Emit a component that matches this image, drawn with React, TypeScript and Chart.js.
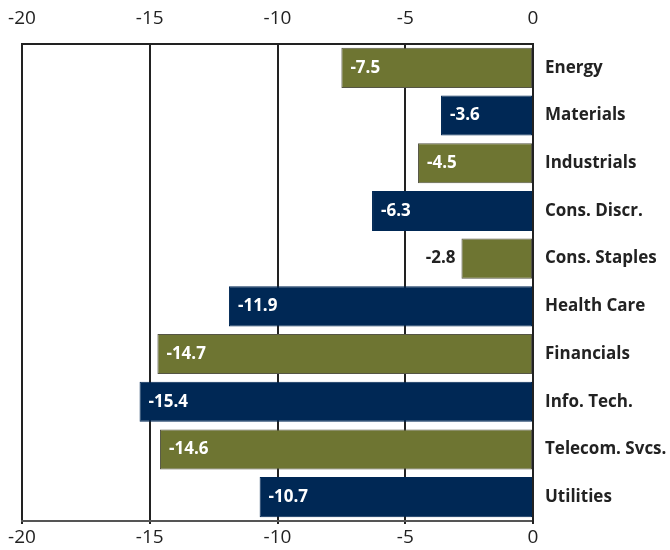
import React, { useEffect, useRef } from "react";
import { Chart, registerables } from "chart.js";

Chart.register(...registerables);

const categories = [
  "Energy",
  "Materials",
  "Industrials",
  "Cons. Discr.",
  "Cons. Staples",
  "Health Care",
  "Financials",
  "Info. Tech.",
  "Telecom. Svcs.",
  "Utilities",
];
const values = [-7.5, -3.6, -4.5, -6.3, -2.8, -11.9, -14.7, -15.4, -14.6, -10.7];
const outsideLabels = ["Cons. Staples"];
const GREEN = "#6e7532";
const NAVY = "#002855";
const barColors = categories.map((_, i) => (i % 2 === 0 ? GREEN : NAVY));
const borderColors = categories.map((_, i) => (i % 2 === 0 ? "#555544" : NAVY));

const valueLabelPlugin = {
  id: "valueLabels",
  afterDatasetsDraw(chart: any) {
    const ctx = chart.ctx;
    const meta = chart.getDatasetMeta(0);
    ctx.save();
    ctx.font = "bold 17px 'Open Sans'";
    ctx.textBaseline = "middle";
    meta.data.forEach((bar: any, i: number) => {
      const v = values[i];
      const text = v.toFixed(1);
      const left = Math.min(bar.x, bar.base);
      if (outsideLabels.includes(categories[i])) {
        ctx.fillStyle = "#222222";
        ctx.textAlign = "right";
        ctx.fillText(text, left - 6, bar.y);
      } else {
        ctx.fillStyle = "#ffffff";
        ctx.textAlign = "left";
        ctx.fillText(text, left + 9, bar.y);
      }
    });
    ctx.restore();
  },
};

export default function App() {
  const ref = useRef<HTMLCanvasElement>(null);
  useEffect(() => {
    if (!ref.current) return;
    const tickFont = { family: "'Open Sans'", size: 19 };
    const fixPad = (s: any) => {
      s.paddingLeft = 22;
      s.paddingRight = 0;
    };
    const chart = new Chart(ref.current, {
      type: "bar",
      data: {
        labels: categories,
        datasets: [
          {
            data: values,
            backgroundColor: barColors,
            borderColor: borderColors,
            borderWidth: 1,
            borderSkipped: false,
            barPercentage: 0.84,
            categoryPercentage: 1,
            xAxisID: "x",
            yAxisID: "y",
          },
        ],
      },
      options: {
        indexAxis: "y",
        animation: false,
        responsive: true,
        maintainAspectRatio: false,
        layout: { padding: { left: 0, right: 0, top: 7, bottom: 0 } },
        plugins: { legend: { display: false }, tooltip: { enabled: false } },
        scales: {
          x: {
            position: "bottom",
            min: -20,
            max: 0,
            ticks: { stepSize: 5, color: "#222", font: tickFont, padding: 2 },
            grid: { color: "#222", lineWidth: 2, drawTicks: true, tickLength: 3 },
            border: { display: true, color: "#555", width: 2 },
            afterFit: (s: any) => {
              s.height = 29;
              fixPad(s);
            },
          },
          x2: {
            position: "top",
            type: "linear",
            min: -20,
            max: 0,
            ticks: { stepSize: 5, color: "#222", font: tickFont, padding: 11 },
            grid: { display: false, drawOnChartArea: false, tickLength: 3 },
            border: { display: true, color: "#222", width: 2 },
            afterFit: (s: any) => {
              s.height = 37;
              fixPad(s);
            },
          },
          y: {
            position: "right",
            ticks: {
              color: "#222",
              font: { family: "'Open Sans'", size: 17, weight: "bold" },
              padding: 12,
              crossAlign: "near",
            },
            grid: { display: false, drawTicks: false },
            border: { display: true, color: "#222", width: 2 },
            afterFit: (s: any) => {
              s.width = 137;
              s.paddingTop = 0;
              s.paddingBottom = 0;
            },
          },
        },
      },
      plugins: [valueLabelPlugin],
    });
    return () => chart.destroy();
  }, []);
  return (
    <div style={{ position: "fixed", left: 0, top: 0, width: 670, height: 550 }}>
      <canvas ref={ref} />
    </div>
  );
}
